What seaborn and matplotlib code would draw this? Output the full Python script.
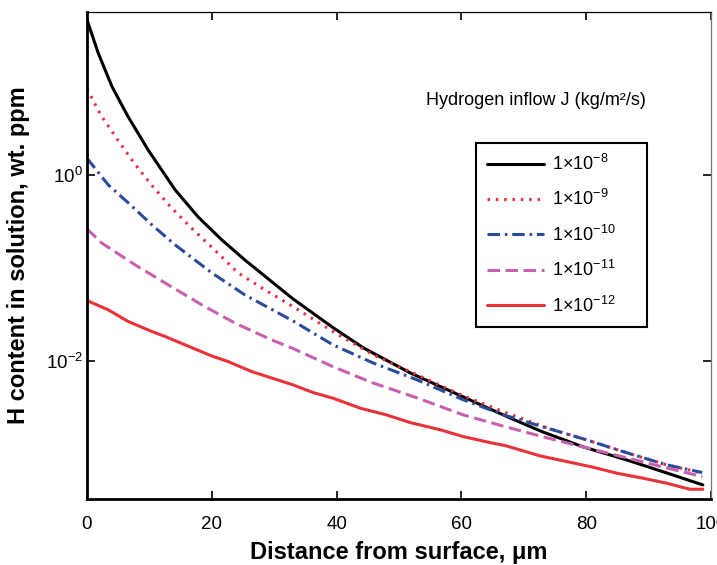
import matplotlib
matplotlib.use("Agg")
import matplotlib.pyplot as plt
import seaborn as sns
import pandas as pd
from matplotlib.ticker import NullLocator, LogFormatterSciNotation

# distance from surface (um) and H content (wt. ppm)
x_j8 = [0, 1.8, 4, 6.6, 9.8, 14.1, 17.8, 21.6, 25.3, 33, 39.5, 44.3, 51.8, 60.3, 67.8, 73, 79.5, 86.5, 92.9, 98.7]
y_j8 = [47.8, 20.9, 9.1, 4.28, 1.88, 0.70, 0.356, 0.201, 0.122, 0.0464, 0.0225, 0.0137, 0.00736, 0.00405,
        0.00240, 0.00170, 0.00117, 0.000845, 0.000612, 0.000454]

x_j9 = [0, 2.2, 4.8, 7.5, 10.4, 13.5, 16.7, 20.1, 24.2, 28.5, 33, 39.4, 45.9, 52.9, 60.3, 67, 73.7, 80.1, 86.5, 92.9, 98.5]
y_j9 = [8.6, 4.5, 2.48, 1.37, 0.776, 0.449, 0.271, 0.165, 0.0885, 0.058, 0.0383, 0.0206, 0.0115, 0.00701,
        0.00416, 0.00276, 0.00188, 0.00139, 0.00101, 0.000748, 0.000612]

x_j10 = [0, 3.4, 6.6, 10.4, 14.1, 20, 25.3, 33, 39.4, 45.8, 52.9, 60.3, 66.8, 73.1, 80.1, 86.5, 92.9, 98.6]
y_j10 = [1.53, 0.789, 0.505, 0.292, 0.178, 0.0885, 0.0512, 0.0268, 0.0148, 0.00945, 0.00619, 0.00377,
         0.00259, 0.00192, 0.00139, 0.00101, 0.000748, 0.000618]

x_j11 = [0, 2.4, 7.7, 13, 18.4, 23.7, 29.6, 33, 39.4, 45.8, 52.9, 60.3, 66.8, 73.1, 80.1, 86.5, 92.9, 98.6]
y_j11 = [0.264, 0.185, 0.108, 0.0658, 0.040, 0.0254, 0.0167, 0.0135, 0.0086, 0.00574, 0.00395, 0.00259,
         0.00195, 0.0015, 0.00114, 0.00089, 0.000693, 0.000559]

x_j12 = [0, 3.4, 6.6, 10.4, 12.5, 15.7, 20, 22.6, 26.4, 33, 36.2, 39.4, 43.8, 48, 51.8, 56.6, 60.3, 64.6,
         67, 72.6, 76.9, 81.1, 84.9, 89.1, 92.9, 96.6, 98.7]
y_j12 = [0.0445, 0.0353, 0.0264, 0.0206, 0.0182, 0.0148, 0.0112, 0.00976, 0.0076, 0.00547, 0.00452, 0.00393,
         0.00306, 0.00259, 0.00214, 0.00179, 0.00151, 0.0013, 0.00121, 0.000935, 0.000811, 0.000706,
         0.000608, 0.000537, 0.000474, 0.000408, 0.000408]

labels = [r"$1{\times}10^{-8}$", r"$1{\times}10^{-9}$", r"$1{\times}10^{-10}$",
          r"$1{\times}10^{-11}$", r"$1{\times}10^{-12}$"]
series = [(x_j8, y_j8), (x_j9, y_j9), (x_j10, y_j10), (x_j11, y_j11), (x_j12, y_j12)]

colors = ["#000000", "#ec2f3a", "#2b4c9c", "#c860b0", "#ea3238"]
# dash patterns in points (scale_dashes off)
styles = ["-", (0, (1.8, 4.2)), (0, (9, 3.5, 1.8, 3.5)), (0, (9, 4)), "-"]

sns.set_style("ticks")
plt.rcParams["font.family"] = ["Liberation Sans", "DejaVu Sans"]
plt.rcParams["mathtext.fontset"] = "custom"
plt.rcParams["mathtext.rm"] = "Liberation Sans"
plt.rcParams["mathtext.it"] = "Liberation Sans:italic"
plt.rcParams["mathtext.bf"] = "Liberation Sans:bold"
plt.rcParams["lines.scale_dashes"] = False
for k in ["text.color", "axes.labelcolor", "xtick.color", "ytick.color", "axes.edgecolor"]:
    plt.rcParams[k] = "black"

fig = plt.figure(figsize=(7.17, 5.65), dpi=100)
ax = fig.add_axes([0.1213, 0.1168, 0.8703, 0.862])

for (xs, ys), lab, c, ls in zip(series, labels, colors, styles):
    df = pd.DataFrame({"x": xs, "y": ys})
    sns.lineplot(data=df, x="x", y="y", ax=ax, color=c, linestyle=ls, linewidth=2.2, label=lab)

ax.set_yscale("log")
ax.set_xlim(0, 100)
ax.set_ylim(3.2e-4, 58)
ax.set_xticks([0, 20, 40, 60, 80, 100])
ax.set_yticks([1, 0.01])
ax.yaxis.set_major_formatter(LogFormatterSciNotation())
ax.yaxis.set_minor_locator(NullLocator())

ax.tick_params(axis="both", direction="in", length=6, width=1.2, labelsize=13.5, top=True, right=True)
ax.tick_params(axis="x", pad=12)
ax.tick_params(axis="y", pad=3)

for side in ["left", "bottom"]:
    ax.spines[side].set_linewidth(2)
ax.spines["top"].set_linewidth(0.9)
ax.spines["right"].set_linewidth(0.9)
ax.spines["right"].set_color("#777777")

ax.set_xlabel("Distance from surface, μm", fontsize=17, fontweight="bold", labelpad=6)
ax.set_ylabel("H content in solution, wt. ppm", fontsize=17, fontweight="bold", labelpad=11)

ax.text(0.72, 0.819, "Hydrogen inflow J (kg/m²/s)", transform=ax.transAxes,
        ha="center", va="center", fontsize=13)

leg = ax.legend(loc="upper left", bbox_to_anchor=(0.623, 0.353, 0.274, 0.378), mode="expand",
                fontsize=13, frameon=True, fancybox=False, handlelength=3.2, labelspacing=0.85,
                borderpad=0.6, handletextpad=0.4, borderaxespad=0)
leg.get_frame().set_edgecolor("black")
leg.get_frame().set_linewidth(1.5)
leg.get_frame().set_alpha(1)

fig.savefig("out.png", dpi=100)
